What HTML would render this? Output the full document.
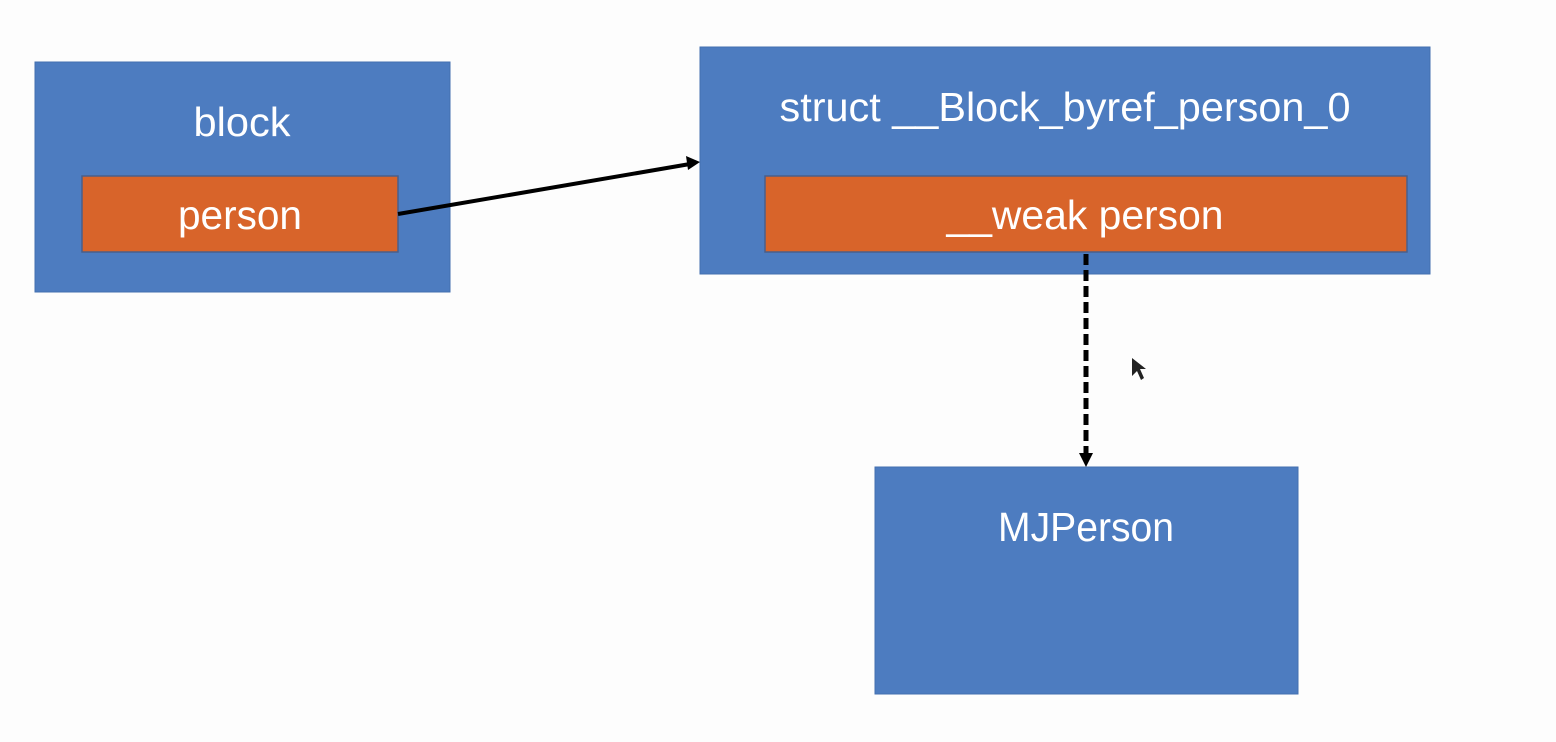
<!DOCTYPE html>
<html><head><meta charset="utf-8"><style>
html,body{margin:0;padding:0;background:#fdfdfd;}
svg{display:block;}
text{font-family:"Liberation Sans",sans-serif;fill:#fff;}
</style></head><body>
<svg width="1556" height="742" viewBox="0 0 1556 742" xmlns="http://www.w3.org/2000/svg">
<rect x="0" y="0" width="1556" height="742" fill="#fdfdfd"/>
<rect x="35" y="62" width="415" height="230" fill="#4d7cc0" stroke="#4470b0" stroke-width="1"/>
<text x="242" y="136" font-size="41" text-anchor="middle" textLength="97" lengthAdjust="spacingAndGlyphs">block</text>
<rect x="82" y="176" width="316" height="76" fill="#d8642a" stroke="#4a5f8a" stroke-width="1.5"/>
<text x="240" y="229" font-size="41" text-anchor="middle" textLength="124" lengthAdjust="spacingAndGlyphs">person</text>

<rect x="700" y="47" width="730" height="227" fill="#4d7cc0" stroke="#4470b0" stroke-width="1"/>
<text x="1065" y="121" font-size="41" text-anchor="middle" textLength="571" lengthAdjust="spacingAndGlyphs">struct __Block_byref_person_0</text>
<rect x="765" y="176" width="642" height="76" fill="#d8642a" stroke="#4a5f8a" stroke-width="1.5"/>
<text x="1085" y="229" font-size="41" text-anchor="middle" textLength="277" lengthAdjust="spacingAndGlyphs">__weak person</text>

<rect x="875" y="467" width="423" height="227" fill="#4d7cc0" stroke="#4470b0" stroke-width="1"/>
<text x="1086" y="541" font-size="41" text-anchor="middle" textLength="176" lengthAdjust="spacingAndGlyphs">MJPerson</text>

<line x1="398" y1="214" x2="690" y2="164" stroke="#000" stroke-width="4"/>
<polygon points="700,162 686,156 688,170" fill="#000"/>

<line x1="1086" y1="254" x2="1086" y2="454" stroke="#000" stroke-width="5" stroke-dasharray="11,5"/>
<polygon points="1086,467 1079,453 1093,453" fill="#000"/>

<polygon points="1132,358 1132,376 1137,371 1141,380 1144,378 1140,369 1146,369" fill="#222"/>
</svg>
</body></html>
